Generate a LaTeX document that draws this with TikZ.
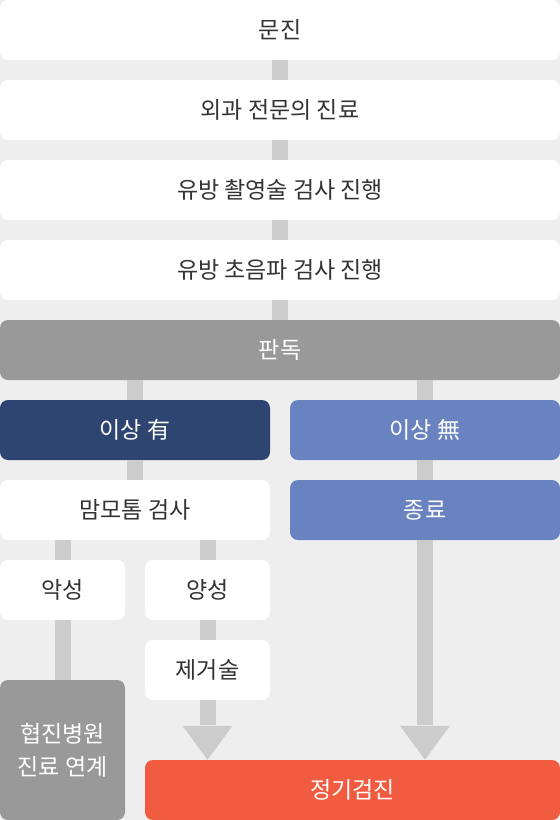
\documentclass[tikz,border=0pt]{standalone}
\usepackage{fontspec}
\setmainfont{Noto Sans CJK KR}
\usetikzlibrary{calc}
\definecolor{bgc}{HTML}{EEEEEE}
\definecolor{connc}{HTML}{CCCCCC}
\definecolor{grayc}{HTML}{999999}
\definecolor{navyc}{HTML}{2E4572}
\definecolor{bluec}{HTML}{6883C0}
\definecolor{orangec}{HTML}{F15B40}
\definecolor{textc}{HTML}{333333}
\tikzset{
  box/.style={draw=none, rounded corners=8pt, inner sep=0pt, minimum height=60pt,
    align=center, font=\fontsize{23}{33}\selectfont},
  whitebox/.style={box, fill=white, text=textc},
  graybox/.style={box, fill=grayc, text=white},
  navybox/.style={box, fill=navyc, text=white},
  bluebox/.style={box, fill=bluec, text=white},
  orangebox/.style={box, fill=orangec, text=white},
  wide/.style={minimum width=560pt},
  half/.style={minimum width=270pt},
  quarter/.style={minimum width=125pt},
  conn/.style={draw=connc, line width=16pt, line cap=butt},
  headc/.style={fill=connc},
}
\begin{document}
\begin{tikzpicture}[x=1pt,y=-1pt]
\fill[bgc] (0,0) rectangle (560,820);
\useasboundingbox (0,0) rectangle (560,820);
\node[whitebox,wide] (n1) at (280,30) {문진};
\node[whitebox,wide] (n2) at (280,110) {외과 전문의 진료};
\node[whitebox,wide] (n3) at (280,190) {유방 촬영술 검사 진행};
\node[whitebox,wide] (n4) at (280,270) {유방 초음파 검사 진행};
\node[graybox,wide] (pan) at (280,350) {판독};
\node[navybox,half] (yes) at (135,430) {이상 有};
\node[bluebox,half] (no) at (425,430) {이상 無};
\node[whitebox,half] (mammo) at (135,510) {맘모톰 검사};
\node[bluebox,half] (fin) at (425,510) {종료};
\node[whitebox,quarter] (mal) at (62.5,590) {악성};
\node[whitebox,quarter] (ben) at (207.5,590) {양성};
\node[whitebox,quarter] (exc) at (207.5,670) {제거술};
\node[graybox,quarter,minimum height=140pt] (hosp) at (62.5,750) {협진병원\\진료 연계};
\node[orangebox,minimum width=415pt] (reg) at (352.5,790) {정기검진};

\draw[conn] (n1.south) -- (n2.north);
\draw[conn] (n2.south) -- (n3.north);
\draw[conn] (n3.south) -- (n4.north);
\draw[conn] (n4.south) -- (pan.north);
\draw[conn] (pan.south -| yes) -- (yes.north);
\draw[conn] (pan.south -| no) -- (no.north);
\draw[conn] (yes.south) -- (mammo.north);
\draw[conn] (no.south) -- (fin.north);
\draw[conn] (mammo.south -| mal) -- (mal.north);
\draw[conn] (mammo.south -| ben) -- (ben.north);
\draw[conn] (ben.south) -- (exc.north);
\draw[conn] (mal.south) -- (hosp.north);
\coordinate (t1) at (reg.north -| exc);
\coordinate (t2) at (reg.north -| fin);
\draw[conn] (exc.south) -- ($(t1)+(0,-34.5)$);
\fill[headc] (t1) -- ($(t1)+(-25,-34)$) -- ($(t1)+(25,-34)$) -- cycle;
\draw[conn] (fin.south) -- ($(t2)+(0,-34.5)$);
\fill[headc] (t2) -- ($(t2)+(-25,-34)$) -- ($(t2)+(25,-34)$) -- cycle;
\end{tikzpicture}
\end{document}
